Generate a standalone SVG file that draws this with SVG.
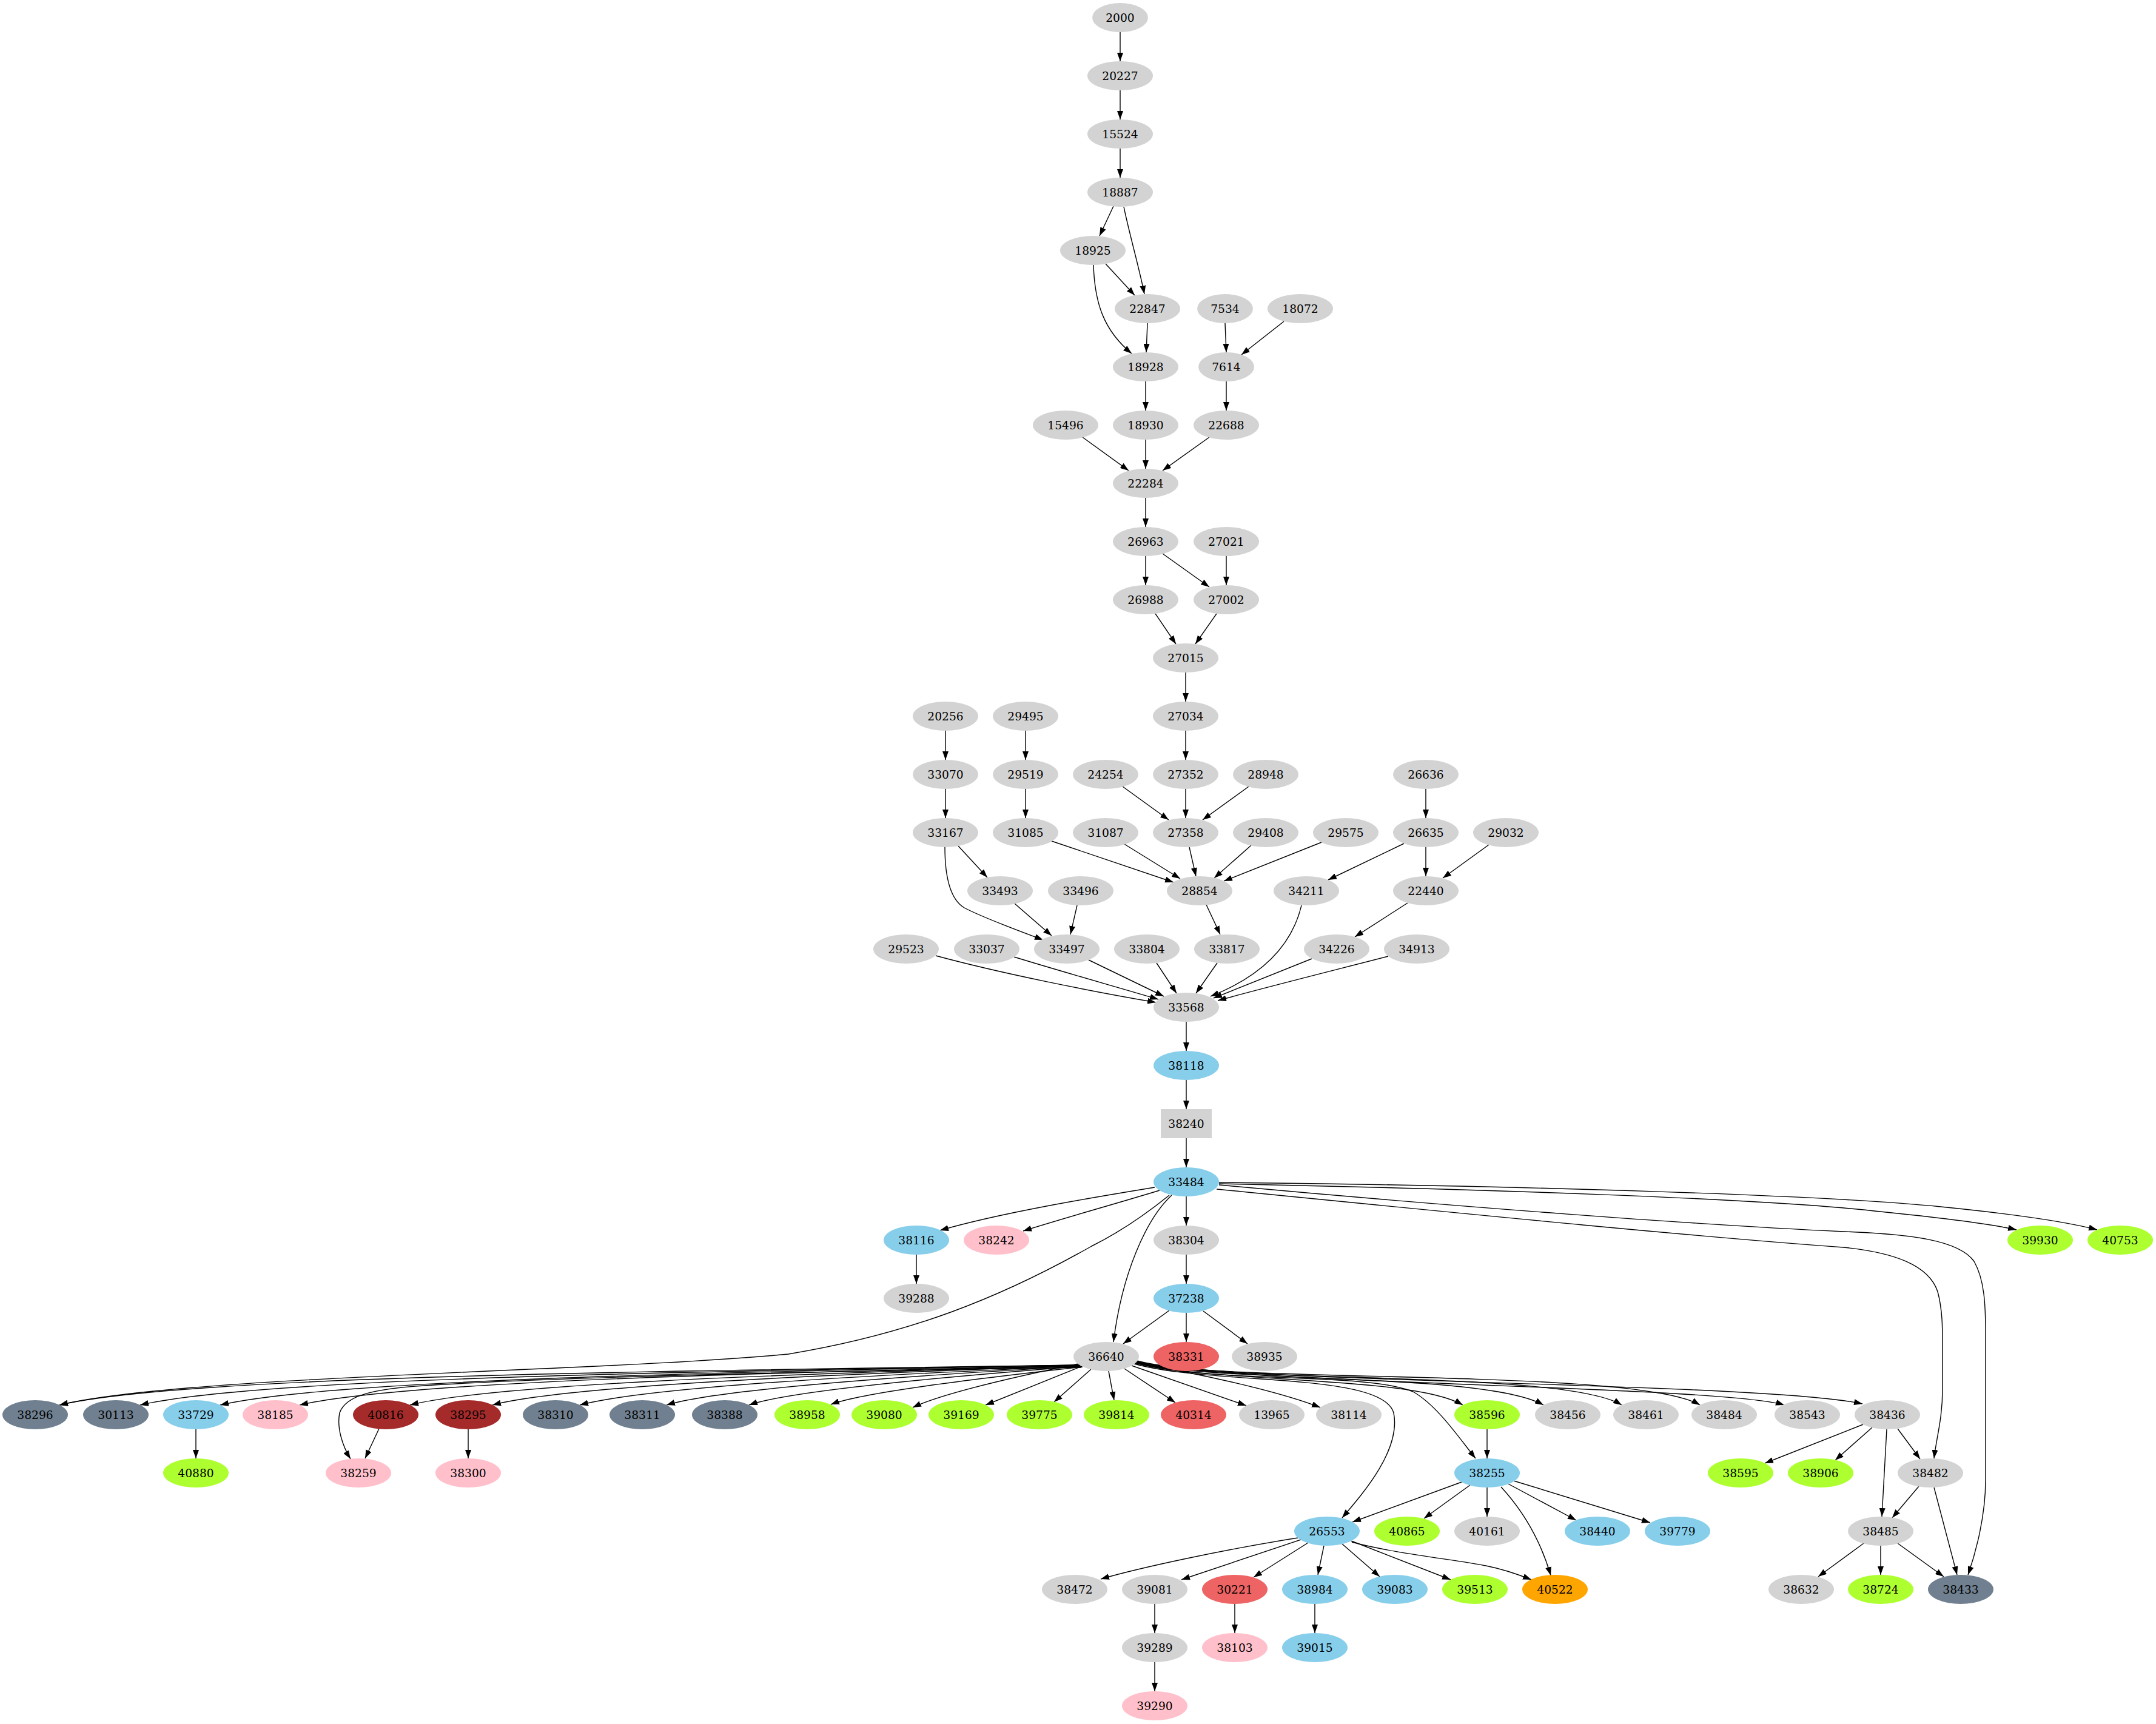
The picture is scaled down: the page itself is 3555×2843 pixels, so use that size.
<svg xmlns="http://www.w3.org/2000/svg" width="3555" height="2843" viewBox="0 0 3555 2843">
<style>
.e{fill:none;stroke:#000;stroke-width:1.4}
.n{fill:#d3d3d3}.sb{fill:#87ceeb}.pk{fill:#ffc0cb}.gy{fill:#adff2f}.sg{fill:#708090}.br{fill:#a52a2a}.rd{fill:#ee6363}.or{fill:#ffa500}
text{font-family:"DejaVu Serif","Liberation Serif",serif;font-size:18.67px;text-anchor:middle;fill:#000}
</style>
<defs>
<marker id="a" markerUnits="userSpaceOnUse" markerWidth="14" markerHeight="10" viewBox="0 0 14 10" refX="14" refY="5" orient="auto"><path d="M0,0L14,5L0,10z" fill="#000"/></marker>
</defs>
<rect width="3555" height="2843" fill="#fff"/>
<g id="edges">
<path class="e" marker-end="url(#a)" d="M1847,53L1847,101"/>
<path class="e" marker-end="url(#a)" d="M1847,149L1847,197"/>
<path class="e" marker-end="url(#a)" d="M1847,245L1847,293"/>
<path class="e" marker-end="url(#a)" d="M1836,340L1813,389"/>
<path class="e" marker-end="url(#a)" d="M1853,341C1862,385 1878,440 1887,485"/>
<path class="e" marker-end="url(#a)" d="M1823,435L1871,487"/>
<path class="e" marker-end="url(#a)" d="M1803,437C1805,500 1820,545 1866,583"/>
<path class="e" marker-end="url(#a)" d="M1892,533L1890,581"/>
<path class="e" marker-end="url(#a)" d="M2020,533L2022,581"/>
<path class="e" marker-end="url(#a)" d="M2117,530L2047,585"/>
<path class="e" marker-end="url(#a)" d="M1889,629L1889,677"/>
<path class="e" marker-end="url(#a)" d="M2022,629L2022,677"/>
<path class="e" marker-end="url(#a)" d="M1785,721L1861,776"/>
<path class="e" marker-end="url(#a)" d="M1889,725L1889,773"/>
<path class="e" marker-end="url(#a)" d="M1994,721L1917,776"/>
<path class="e" marker-end="url(#a)" d="M1889,821L1889,869"/>
<path class="e" marker-end="url(#a)" d="M1889,917L1889,965"/>
<path class="e" marker-end="url(#a)" d="M1917,913L1994,968"/>
<path class="e" marker-end="url(#a)" d="M2022,917L2022,965"/>
<path class="e" marker-end="url(#a)" d="M1905,1012L1939,1062"/>
<path class="e" marker-end="url(#a)" d="M2006,1012L1971,1062"/>
<path class="e" marker-end="url(#a)" d="M1955,1109L1955,1157"/>
<path class="e" marker-end="url(#a)" d="M1955,1205L1955,1253"/>
<path class="e" marker-end="url(#a)" d="M1559,1205L1559,1253"/>
<path class="e" marker-end="url(#a)" d="M1691,1205L1691,1253"/>
<path class="e" marker-end="url(#a)" d="M1559,1301L1559,1349"/>
<path class="e" marker-end="url(#a)" d="M1691,1301L1691,1349"/>
<path class="e" marker-end="url(#a)" d="M1851,1297L1927,1352"/>
<path class="e" marker-end="url(#a)" d="M1955,1301L1955,1349"/>
<path class="e" marker-end="url(#a)" d="M2059,1297L1983,1352"/>
<path class="e" marker-end="url(#a)" d="M2351,1301L2351,1349"/>
<path class="e" marker-end="url(#a)" d="M1580,1395L1628,1447"/>
<path class="e" marker-end="url(#a)" d="M1558,1397C1558,1440 1565,1482 1590,1497C1620,1513 1680,1535 1720,1550"/>
<path class="e" marker-end="url(#a)" d="M1734,1387L1935,1455"/>
<path class="e" marker-end="url(#a)" d="M1854,1392L1946,1449"/>
<path class="e" marker-end="url(#a)" d="M1961,1397L1972,1445"/>
<path class="e" marker-end="url(#a)" d="M2063,1394L2002,1448"/>
<path class="e" marker-end="url(#a)" d="M2179,1389L2018,1453"/>
<path class="e" marker-end="url(#a)" d="M2315,1391L2190,1451"/>
<path class="e" marker-end="url(#a)" d="M2351,1397L2351,1445"/>
<path class="e" marker-end="url(#a)" d="M2455,1393L2379,1448"/>
<path class="e" marker-end="url(#a)" d="M1673,1490L1734,1543"/>
<path class="e" marker-end="url(#a)" d="M1776,1493L1765,1541"/>
<path class="e" marker-end="url(#a)" d="M1989,1492L2012,1541"/>
<path class="e" marker-end="url(#a)" d="M2321,1489L2234,1545"/>
<path class="e" marker-end="url(#a)" d="M1543,1576C1650,1605 1800,1635 1906,1653"/>
<path class="e" marker-end="url(#a)" d="M1672,1578C1760,1605 1850,1630 1910,1648"/>
<path class="e" marker-end="url(#a)" d="M1795,1583L1919,1643"/>
<path class="e" marker-end="url(#a)" d="M1907,1588L1940,1638"/>
<path class="e" marker-end="url(#a)" d="M2007,1588L1972,1638"/>
<path class="e" marker-end="url(#a)" d="M2146,1493C2130,1560 2080,1610 1996,1643"/>
<path class="e" marker-end="url(#a)" d="M2163,1581L2001,1646"/>
<path class="e" marker-end="url(#a)" d="M2289,1577C2180,1605 2080,1630 2008,1650"/>
<path class="e" marker-end="url(#a)" d="M1956,1685L1956,1733"/>
<path class="e" marker-end="url(#a)" d="M1956,1781L1956,1829"/>
<path class="e" marker-end="url(#a)" d="M1956,1877L1956,1925"/>
<path class="e" marker-end="url(#a)" d="M1956,1973L1956,2021"/>
<path class="e" marker-end="url(#a)" d="M1904,1958C1800,1975 1650,2000 1550,2029"/>
<path class="e" marker-end="url(#a)" d="M1912,1963C1840,1985 1750,2010 1687,2030"/>
<path class="e" marker-end="url(#a)" d="M1932,1971C1890,2010 1850,2100 1836,2213"/>
<path class="e" marker-end="url(#a)" d="M1928,1971C1880,2010 1840,2035 1800,2055C1650,2140 1500,2200 1300,2233C1000,2262 300,2268 98,2317"/>
<path class="e" marker-end="url(#a)" d="M2010,1952C2400,1960 2900,1975 3100,1998C3200,2008 3280,2018 3325,2028"/>
<path class="e" marker-end="url(#a)" d="M2010,1950C2500,1955 3000,1970 3200,1990C3350,2005 3420,2018 3458,2028"/>
<path class="e" marker-end="url(#a)" d="M2010,1954C2400,1990 2800,2020 3040,2031C3150,2035 3230,2045 3255,2080C3272,2110 3274,2150 3274,2200L3274,2440C3274,2500 3258,2560 3245,2597"/>
<path class="e" marker-end="url(#a)" d="M2006,1961C2400,2000 2800,2040 3040,2057C3120,2065 3180,2085 3195,2130C3203,2160 3203,2190 3203,2220L3203,2290C3203,2340 3193,2370 3189,2405"/>
<path class="e" marker-end="url(#a)" d="M1511,2069L1511,2117"/>
<path class="e" marker-end="url(#a)" d="M1956,2069L1956,2117"/>
<path class="e" marker-end="url(#a)" d="M1956,2165L1956,2213"/>
<path class="e" marker-end="url(#a)" d="M1984,2162L2057,2216"/>
<path class="e" marker-end="url(#a)" d="M1928,2161L1852,2216"/>
<path class="e" marker-end="url(#a)" d="M1780,2251C1025,2262 300,2270 98,2317"/>
<path class="e" marker-end="url(#a)" d="M1780,2251C1085,2263 420,2273 231,2317"/>
<path class="e" marker-end="url(#a)" d="M1780,2251C1144,2264 540,2276 363,2317"/>
<path class="e" marker-end="url(#a)" d="M1780,2252C1203,2265 660,2279 494,2317"/>
<path class="e" marker-end="url(#a)" d="M1783,2255C1300,2262 900,2272 700,2285C620,2290 570,2300 560,2330C555,2355 565,2385 578,2406"/>
<path class="e" marker-end="url(#a)" d="M1781,2252C1285,2266 810,2283 676,2317"/>
<path class="e" marker-end="url(#a)" d="M1781,2252C1346,2267 930,2286 812,2317"/>
<path class="e" marker-end="url(#a)" d="M1782,2253C1411,2268 1060,2289 956,2317"/>
<path class="e" marker-end="url(#a)" d="M1782,2253C1475,2270 1180,2292 1099,2317"/>
<path class="e" marker-end="url(#a)" d="M1783,2253C1536,2272 1300,2294 1235,2317"/>
<path class="e" marker-end="url(#a)" d="M1785,2254C1597,2275 1420,2297 1370,2316"/>
<path class="e" marker-end="url(#a)" d="M1778,2249C1700,2265 1560,2295 1505,2321"/>
<path class="e" marker-end="url(#a)" d="M1784,2253L1625,2317"/>
<path class="e" marker-end="url(#a)" d="M1799,2258L1738,2312"/>
<path class="e" marker-end="url(#a)" d="M1828,2261L1837,2309"/>
<path class="e" marker-end="url(#a)" d="M1854,2257L1938,2313"/>
<path class="e" marker-end="url(#a)" d="M1866,2252L2055,2318"/>
<path class="e" marker-end="url(#a)" d="M1871,2248C1980,2265 2110,2295 2177,2321"/>
<path class="e" marker-end="url(#a)" d="M1870,2249C2000,2285 2280,2262 2298,2330C2310,2390 2250,2460 2213,2503"/>
<path class="e" marker-end="url(#a)" d="M1872,2247C2000,2282 2330,2268 2412,2317"/>
<path class="e" marker-end="url(#a)" d="M1872,2248C2000,2282 2250,2262 2330,2295C2370,2318 2405,2370 2433,2405"/>
<path class="e" marker-end="url(#a)" d="M1873,2246C2000,2282 2450,2262 2545,2317"/>
<path class="e" marker-end="url(#a)" d="M1873,2246C2000,2282 2580,2258 2674,2317"/>
<path class="e" marker-end="url(#a)" d="M1874,2245C2000,2282 2700,2255 2803,2317"/>
<path class="e" marker-end="url(#a)" d="M1874,2245C2000,2282 2840,2285 2942,2317"/>
<path class="e" marker-end="url(#a)" d="M1875,2244C2000,2282 2900,2278 3071,2315"/>
<path class="e" marker-end="url(#a)" d="M323,2357L323,2405"/>
<path class="e" marker-end="url(#a)" d="M625,2356L602,2405"/>
<path class="e" marker-end="url(#a)" d="M772,2357L772,2405"/>
<path class="e" marker-end="url(#a)" d="M2452,2357L2452,2405"/>
<path class="e" marker-end="url(#a)" d="M3072,2349L2910,2413"/>
<path class="e" marker-end="url(#a)" d="M3087,2354L3026,2408"/>
<path class="e" marker-end="url(#a)" d="M3111,2357L3103,2501"/>
<path class="e" marker-end="url(#a)" d="M3129,2356L3166,2406"/>
<path class="e" marker-end="url(#a)" d="M3164,2451L3120,2503"/>
<path class="e" marker-end="url(#a)" d="M3189,2453L3227,2597"/>
<path class="e" marker-end="url(#a)" d="M3073,2545L2998,2600"/>
<path class="e" marker-end="url(#a)" d="M3101,2549L3101,2597"/>
<path class="e" marker-end="url(#a)" d="M3129,2545L3205,2600"/>
<path class="e" marker-end="url(#a)" d="M2410,2444L2230,2510"/>
<path class="e" marker-end="url(#a)" d="M2424,2449L2348,2504"/>
<path class="e" marker-end="url(#a)" d="M2452,2453L2452,2501"/>
<path class="e" marker-end="url(#a)" d="M2487,2447L2599,2507"/>
<path class="e" marker-end="url(#a)" d="M2496,2442L2721,2511"/>
<path class="e" marker-end="url(#a)" d="M2475,2452C2510,2490 2540,2540 2557,2598"/>
<path class="e" marker-end="url(#a)" d="M2140,2536C2020,2555 1880,2585 1815,2604"/>
<path class="e" marker-end="url(#a)" d="M2145,2539L1948,2605"/>
<path class="e" marker-end="url(#a)" d="M2157,2544L2067,2601"/>
<path class="e" marker-end="url(#a)" d="M2183,2549L2173,2597"/>
<path class="e" marker-end="url(#a)" d="M2213,2546L2275,2600"/>
<path class="e" marker-end="url(#a)" d="M2228,2541L2392,2605"/>
<path class="e" marker-end="url(#a)" d="M2229,2543C2300,2562 2400,2572 2450,2582C2480,2588 2505,2597 2525,2605"/>
<path class="e" marker-end="url(#a)" d="M2036,2645L2036,2693"/>
<path class="e" marker-end="url(#a)" d="M2168,2645L2168,2693"/>
<path class="e" marker-end="url(#a)" d="M1904,2645L1904,2693"/>
<path class="e" marker-end="url(#a)" d="M1904,2741L1904,2789"/>
</g>
<g id="nodes">
<g id="n2000"><ellipse class="n" cx="1847" cy="29" rx="46" ry="24"/><text x="1847" y="36">2000</text></g>
<g id="n20227"><ellipse class="n" cx="1847" cy="125" rx="54" ry="24"/><text x="1847" y="132">20227</text></g>
<g id="n15524"><ellipse class="n" cx="1847" cy="221" rx="54" ry="24"/><text x="1847" y="228">15524</text></g>
<g id="n18887"><ellipse class="n" cx="1847" cy="317" rx="54" ry="24"/><text x="1847" y="324">18887</text></g>
<g id="n18925"><ellipse class="n" cx="1802" cy="413" rx="54" ry="24"/><text x="1802" y="420">18925</text></g>
<g id="n22847"><ellipse class="n" cx="1892" cy="509" rx="54" ry="24"/><text x="1892" y="516">22847</text></g>
<g id="n7534"><ellipse class="n" cx="2020" cy="509" rx="46" ry="24"/><text x="2020" y="516">7534</text></g>
<g id="n18072"><ellipse class="n" cx="2144" cy="509" rx="54" ry="24"/><text x="2144" y="516">18072</text></g>
<g id="n18928"><ellipse class="n" cx="1889" cy="605" rx="54" ry="24"/><text x="1889" y="612">18928</text></g>
<g id="n7614"><ellipse class="n" cx="2022" cy="605" rx="46" ry="24"/><text x="2022" y="612">7614</text></g>
<g id="n15496"><ellipse class="n" cx="1757" cy="701" rx="54" ry="24"/><text x="1757" y="708">15496</text></g>
<g id="n18930"><ellipse class="n" cx="1889" cy="701" rx="54" ry="24"/><text x="1889" y="708">18930</text></g>
<g id="n22688"><ellipse class="n" cx="2022" cy="701" rx="54" ry="24"/><text x="2022" y="708">22688</text></g>
<g id="n22284"><ellipse class="n" cx="1889" cy="797" rx="54" ry="24"/><text x="1889" y="804">22284</text></g>
<g id="n26963"><ellipse class="n" cx="1889" cy="893" rx="54" ry="24"/><text x="1889" y="900">26963</text></g>
<g id="n27021"><ellipse class="n" cx="2022" cy="893" rx="54" ry="24"/><text x="2022" y="900">27021</text></g>
<g id="n26988"><ellipse class="n" cx="1889" cy="989" rx="54" ry="24"/><text x="1889" y="996">26988</text></g>
<g id="n27002"><ellipse class="n" cx="2022" cy="989" rx="54" ry="24"/><text x="2022" y="996">27002</text></g>
<g id="n27015"><ellipse class="n" cx="1955" cy="1085" rx="54" ry="24"/><text x="1955" y="1092">27015</text></g>
<g id="n20256"><ellipse class="n" cx="1559" cy="1181" rx="54" ry="24"/><text x="1559" y="1188">20256</text></g>
<g id="n29495"><ellipse class="n" cx="1691" cy="1181" rx="54" ry="24"/><text x="1691" y="1188">29495</text></g>
<g id="n27034"><ellipse class="n" cx="1955" cy="1181" rx="54" ry="24"/><text x="1955" y="1188">27034</text></g>
<g id="n33070"><ellipse class="n" cx="1559" cy="1277" rx="54" ry="24"/><text x="1559" y="1284">33070</text></g>
<g id="n29519"><ellipse class="n" cx="1691" cy="1277" rx="54" ry="24"/><text x="1691" y="1284">29519</text></g>
<g id="n24254"><ellipse class="n" cx="1823" cy="1277" rx="54" ry="24"/><text x="1823" y="1284">24254</text></g>
<g id="n27352"><ellipse class="n" cx="1955" cy="1277" rx="54" ry="24"/><text x="1955" y="1284">27352</text></g>
<g id="n28948"><ellipse class="n" cx="2087" cy="1277" rx="54" ry="24"/><text x="2087" y="1284">28948</text></g>
<g id="n26636"><ellipse class="n" cx="2351" cy="1277" rx="54" ry="24"/><text x="2351" y="1284">26636</text></g>
<g id="n33167"><ellipse class="n" cx="1559" cy="1373" rx="54" ry="24"/><text x="1559" y="1380">33167</text></g>
<g id="n31085"><ellipse class="n" cx="1691" cy="1373" rx="54" ry="24"/><text x="1691" y="1380">31085</text></g>
<g id="n31087"><ellipse class="n" cx="1823" cy="1373" rx="54" ry="24"/><text x="1823" y="1380">31087</text></g>
<g id="n27358"><ellipse class="n" cx="1955" cy="1373" rx="54" ry="24"/><text x="1955" y="1380">27358</text></g>
<g id="n29408"><ellipse class="n" cx="2087" cy="1373" rx="54" ry="24"/><text x="2087" y="1380">29408</text></g>
<g id="n29575"><ellipse class="n" cx="2219" cy="1373" rx="54" ry="24"/><text x="2219" y="1380">29575</text></g>
<g id="n26635"><ellipse class="n" cx="2351" cy="1373" rx="54" ry="24"/><text x="2351" y="1380">26635</text></g>
<g id="n29032"><ellipse class="n" cx="2483" cy="1373" rx="54" ry="24"/><text x="2483" y="1380">29032</text></g>
<g id="n33493"><ellipse class="n" cx="1649" cy="1469" rx="54" ry="24"/><text x="1649" y="1476">33493</text></g>
<g id="n33496"><ellipse class="n" cx="1782" cy="1469" rx="54" ry="24"/><text x="1782" y="1476">33496</text></g>
<g id="n28854"><ellipse class="n" cx="1978" cy="1469" rx="54" ry="24"/><text x="1978" y="1476">28854</text></g>
<g id="n34211"><ellipse class="n" cx="2154" cy="1469" rx="54" ry="24"/><text x="2154" y="1476">34211</text></g>
<g id="n22440"><ellipse class="n" cx="2351" cy="1469" rx="54" ry="24"/><text x="2351" y="1476">22440</text></g>
<g id="n29523"><ellipse class="n" cx="1494" cy="1565" rx="54" ry="24"/><text x="1494" y="1572">29523</text></g>
<g id="n33037"><ellipse class="n" cx="1627" cy="1565" rx="54" ry="24"/><text x="1627" y="1572">33037</text></g>
<g id="n33497"><ellipse class="n" cx="1759" cy="1565" rx="54" ry="24"/><text x="1759" y="1572">33497</text></g>
<g id="n33804"><ellipse class="n" cx="1891" cy="1565" rx="54" ry="24"/><text x="1891" y="1572">33804</text></g>
<g id="n33817"><ellipse class="n" cx="2023" cy="1565" rx="54" ry="24"/><text x="2023" y="1572">33817</text></g>
<g id="n34226"><ellipse class="n" cx="2204" cy="1565" rx="54" ry="24"/><text x="2204" y="1572">34226</text></g>
<g id="n34913"><ellipse class="n" cx="2336" cy="1565" rx="54" ry="24"/><text x="2336" y="1572">34913</text></g>
<g id="n33568"><ellipse class="n" cx="1956" cy="1661" rx="54" ry="24"/><text x="1956" y="1668">33568</text></g>
<g id="n38118"><ellipse class="sb" cx="1956" cy="1757" rx="54" ry="24"/><text x="1956" y="1764">38118</text></g>
<g id="n38240"><rect class="n" x="1914" y="1829" width="84" height="48"/><text x="1956" y="1860">38240</text></g>
<g id="n33484"><ellipse class="sb" cx="1956" cy="1949" rx="54" ry="24"/><text x="1956" y="1956">33484</text></g>
<g id="n38116"><ellipse class="sb" cx="1511" cy="2045" rx="54" ry="24"/><text x="1511" y="2052">38116</text></g>
<g id="n38242"><ellipse class="pk" cx="1643" cy="2045" rx="54" ry="24"/><text x="1643" y="2052">38242</text></g>
<g id="n38304"><ellipse class="n" cx="1956" cy="2045" rx="54" ry="24"/><text x="1956" y="2052">38304</text></g>
<g id="n39930"><ellipse class="gy" cx="3364" cy="2045" rx="54" ry="24"/><text x="3364" y="2052">39930</text></g>
<g id="n40753"><ellipse class="gy" cx="3496" cy="2045" rx="54" ry="24"/><text x="3496" y="2052">40753</text></g>
<g id="n39288"><ellipse class="n" cx="1511" cy="2141" rx="54" ry="24"/><text x="1511" y="2148">39288</text></g>
<g id="n37238"><ellipse class="sb" cx="1956" cy="2141" rx="54" ry="24"/><text x="1956" y="2148">37238</text></g>
<g id="n36640"><ellipse class="n" cx="1824" cy="2237" rx="54" ry="24"/><text x="1824" y="2244">36640</text></g>
<g id="n38331"><ellipse class="rd" cx="1956" cy="2237" rx="54" ry="24"/><text x="1956" y="2244">38331</text></g>
<g id="n38935"><ellipse class="n" cx="2085" cy="2237" rx="54" ry="24"/><text x="2085" y="2244">38935</text></g>
<g id="n38296"><ellipse class="sg" cx="58" cy="2333" rx="54" ry="24"/><text x="58" y="2340">38296</text></g>
<g id="n30113"><ellipse class="sg" cx="191" cy="2333" rx="54" ry="24"/><text x="191" y="2340">30113</text></g>
<g id="n33729"><ellipse class="sb" cx="323" cy="2333" rx="54" ry="24"/><text x="323" y="2340">33729</text></g>
<g id="n38185"><ellipse class="pk" cx="454" cy="2333" rx="54" ry="24"/><text x="454" y="2340">38185</text></g>
<g id="n40816"><ellipse class="br" cx="636" cy="2333" rx="54" ry="24"/><text x="636" y="2340">40816</text></g>
<g id="n38295"><ellipse class="br" cx="772" cy="2333" rx="54" ry="24"/><text x="772" y="2340">38295</text></g>
<g id="n38310"><ellipse class="sg" cx="916" cy="2333" rx="54" ry="24"/><text x="916" y="2340">38310</text></g>
<g id="n38311"><ellipse class="sg" cx="1059" cy="2333" rx="54" ry="24"/><text x="1059" y="2340">38311</text></g>
<g id="n38388"><ellipse class="sg" cx="1195" cy="2333" rx="54" ry="24"/><text x="1195" y="2340">38388</text></g>
<g id="n38958"><ellipse class="gy" cx="1331" cy="2333" rx="54" ry="24"/><text x="1331" y="2340">38958</text></g>
<g id="n39080"><ellipse class="gy" cx="1458" cy="2333" rx="54" ry="24"/><text x="1458" y="2340">39080</text></g>
<g id="n39169"><ellipse class="gy" cx="1585" cy="2333" rx="54" ry="24"/><text x="1585" y="2340">39169</text></g>
<g id="n39775"><ellipse class="gy" cx="1714" cy="2333" rx="54" ry="24"/><text x="1714" y="2340">39775</text></g>
<g id="n39814"><ellipse class="gy" cx="1841" cy="2333" rx="54" ry="24"/><text x="1841" y="2340">39814</text></g>
<g id="n40314"><ellipse class="rd" cx="1968" cy="2333" rx="54" ry="24"/><text x="1968" y="2340">40314</text></g>
<g id="n13965"><ellipse class="n" cx="2097" cy="2333" rx="54" ry="24"/><text x="2097" y="2340">13965</text></g>
<g id="n38114"><ellipse class="n" cx="2224" cy="2333" rx="54" ry="24"/><text x="2224" y="2340">38114</text></g>
<g id="n38596"><ellipse class="gy" cx="2452" cy="2333" rx="54" ry="24"/><text x="2452" y="2340">38596</text></g>
<g id="n38456"><ellipse class="n" cx="2585" cy="2333" rx="54" ry="24"/><text x="2585" y="2340">38456</text></g>
<g id="n38461"><ellipse class="n" cx="2714" cy="2333" rx="54" ry="24"/><text x="2714" y="2340">38461</text></g>
<g id="n38484"><ellipse class="n" cx="2843" cy="2333" rx="54" ry="24"/><text x="2843" y="2340">38484</text></g>
<g id="n38543"><ellipse class="n" cx="2980" cy="2333" rx="54" ry="24"/><text x="2980" y="2340">38543</text></g>
<g id="n38436"><ellipse class="n" cx="3112" cy="2333" rx="54" ry="24"/><text x="3112" y="2340">38436</text></g>
<g id="n40880"><ellipse class="gy" cx="323" cy="2429" rx="54" ry="24"/><text x="323" y="2436">40880</text></g>
<g id="n38259"><ellipse class="pk" cx="591" cy="2429" rx="54" ry="24"/><text x="591" y="2436">38259</text></g>
<g id="n38300"><ellipse class="pk" cx="772" cy="2429" rx="54" ry="24"/><text x="772" y="2436">38300</text></g>
<g id="n38255"><ellipse class="sb" cx="2452" cy="2429" rx="54" ry="24"/><text x="2452" y="2436">38255</text></g>
<g id="n38595"><ellipse class="gy" cx="2870" cy="2429" rx="54" ry="24"/><text x="2870" y="2436">38595</text></g>
<g id="n38906"><ellipse class="gy" cx="3002" cy="2429" rx="54" ry="24"/><text x="3002" y="2436">38906</text></g>
<g id="n38482"><ellipse class="n" cx="3183" cy="2429" rx="54" ry="24"/><text x="3183" y="2436">38482</text></g>
<g id="n26553"><ellipse class="sb" cx="2188" cy="2525" rx="54" ry="24"/><text x="2188" y="2532">26553</text></g>
<g id="n40865"><ellipse class="gy" cx="2320" cy="2525" rx="54" ry="24"/><text x="2320" y="2532">40865</text></g>
<g id="n40161"><ellipse class="n" cx="2452" cy="2525" rx="54" ry="24"/><text x="2452" y="2532">40161</text></g>
<g id="n38440"><ellipse class="sb" cx="2634" cy="2525" rx="54" ry="24"/><text x="2634" y="2532">38440</text></g>
<g id="n39779"><ellipse class="sb" cx="2766" cy="2525" rx="54" ry="24"/><text x="2766" y="2532">39779</text></g>
<g id="n38485"><ellipse class="n" cx="3101" cy="2525" rx="54" ry="24"/><text x="3101" y="2532">38485</text></g>
<g id="n38472"><ellipse class="n" cx="1772" cy="2621" rx="54" ry="24"/><text x="1772" y="2628">38472</text></g>
<g id="n39081"><ellipse class="n" cx="1904" cy="2621" rx="54" ry="24"/><text x="1904" y="2628">39081</text></g>
<g id="n30221"><ellipse class="rd" cx="2036" cy="2621" rx="54" ry="24"/><text x="2036" y="2628">30221</text></g>
<g id="n38984"><ellipse class="sb" cx="2168" cy="2621" rx="54" ry="24"/><text x="2168" y="2628">38984</text></g>
<g id="n39083"><ellipse class="sb" cx="2300" cy="2621" rx="54" ry="24"/><text x="2300" y="2628">39083</text></g>
<g id="n39513"><ellipse class="gy" cx="2432" cy="2621" rx="54" ry="24"/><text x="2432" y="2628">39513</text></g>
<g id="n40522"><ellipse class="or" cx="2564" cy="2621" rx="54" ry="24"/><text x="2564" y="2628">40522</text></g>
<g id="n38632"><ellipse class="n" cx="2970" cy="2621" rx="54" ry="24"/><text x="2970" y="2628">38632</text></g>
<g id="n38724"><ellipse class="gy" cx="3101" cy="2621" rx="54" ry="24"/><text x="3101" y="2628">38724</text></g>
<g id="n38433"><ellipse class="sg" cx="3233" cy="2621" rx="54" ry="24"/><text x="3233" y="2628">38433</text></g>
<g id="n39289"><ellipse class="n" cx="1904" cy="2717" rx="54" ry="24"/><text x="1904" y="2724">39289</text></g>
<g id="n38103"><ellipse class="pk" cx="2036" cy="2717" rx="54" ry="24"/><text x="2036" y="2724">38103</text></g>
<g id="n39015"><ellipse class="sb" cx="2168" cy="2717" rx="54" ry="24"/><text x="2168" y="2724">39015</text></g>
<g id="n39290"><ellipse class="pk" cx="1904" cy="2813" rx="54" ry="24"/><text x="1904" y="2820">39290</text></g>
</g>
</svg>
